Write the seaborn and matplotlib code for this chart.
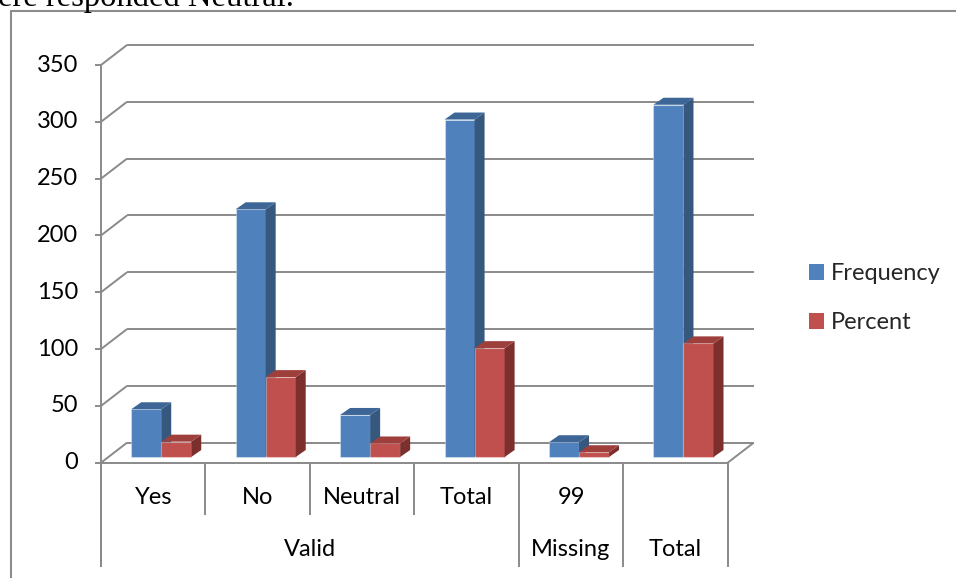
import matplotlib
matplotlib.use("Agg")
import matplotlib.pyplot as plt
import seaborn as sns
import pandas as pd
from matplotlib.patches import Polygon, Rectangle
from matplotlib.lines import Line2D
from matplotlib.transforms import ScaledTranslation

# ---- data -------------------------------------------------------------
rows = ["Yes", "No", "Neutral", "Valid total", "99", "Total"]
row_labels = ["Yes", "No", "Neutral", "Total", "99", ""]
groups = ["Valid", "Missing", "Total"]
group_spans = [(0, 4), (4, 5), (5, 6)]
series = ["Frequency", "Percent"]
frequency = [42, 218, 37, 297, 13, 310]
percent = [13.5, 70.3, 11.9, 95.8, 4.2, 100.0]
y_ticks = [0, 50, 100, 150, 200, 250, 300, 350]

df = pd.DataFrame({
    "row": rows * 2,
    "series": [series[0]] * len(rows) + [series[1]] * len(rows),
    "value": frequency + percent,
})

# ---- styling ----------------------------------------------------------
BLUE, BLUE_SIDE, BLUE_TOP = "#4F81BD", "#36587F", "#3D6697"
RED, RED_SIDE, RED_TOP = "#C0504D", "#7C2F2D", "#9E3F3C"
GRID = "#8A8A8A"
FRAME = "#8C8C8C"

W, H, DPI = 956, 578, 100
sns.set_theme(style="white")
plt.rcParams["font.family"] = ["Lato", "DejaVu Sans"]
FS = 17

fig = plt.figure(figsize=(W / DPI, H / DPI), dpi=DPI)
fig.patch.set_facecolor("white")

# front plane of the plot: pixel columns/rows of the category edges and 0..350
X0, X1 = 101.0, 727.7
Y0, Y1 = 462.7, 65.0
ax = fig.add_axes([X0 / W, 1 - Y0 / H, (X1 - X0) / W, (Y0 - Y1) / H])

sns.barplot(data=df, x="row", y="value", hue="series", order=rows,
            hue_order=series, palette=[BLUE, RED], width=0.575,
            saturation=1, legend=False, errorbar=None, ax=ax)
ax.set_xlim(-0.5, len(rows) - 0.5)
ax.set_ylim(0, 350)
ax.axis("off")

px_x = (X1 - X0) / len(rows)
px_y = (Y0 - Y1) / 350.0


def cx(p):
    return p / px_x


def cy(p):
    return p / px_y


# depth of the back wall, position of the bars inside the box, bar depth
WALL_DX, WALL_DY = cx(26), cy(20)
BAR_SHIFT = ScaledTranslation(8 / DPI, 5.7 / DPI, fig.dpi_scale_trans)
BAR_DX, BAR_DY = cx(10), cy(7)

lkw = dict(color=GRID, lw=1.4, clip_on=False, zorder=1, solid_capstyle="butt")
left, right = -0.5, len(rows) - 0.5

# back wall gridlines and the diagonals joining them to the value axis
for v in y_ticks:
    ax.plot([left + WALL_DX, right + WALL_DX], [v + WALL_DY] * 2, **lkw)
    ax.plot([left, left + WALL_DX], [v, v + WALL_DY], **lkw)
    ax.plot([left - cx(6), left], [v, v], **lkw)

# floor
ax.plot([left, right], [0, 0], **lkw)
ax.plot([right, right + WALL_DX], [0, WALL_DY], **lkw)

# value axis, running down into the category table
bottom_long = -cy(567 - Y0)
bottom_short = -cy(515 - Y0)
ax.plot([left, left], [350, bottom_long], **lkw)

# category table separators
long_edges = {s for s, _ in group_spans} | {e for _, e in group_spans}
for k in range(len(rows) + 1):
    y_end = bottom_long if k in long_edges else bottom_short
    ax.plot([k - 0.5, k - 0.5], [0, y_end], **lkw)

# ---- 3-D columns ------------------------------------------------------
bar_tr = ax.transData + BAR_SHIFT
n = len(rows)
for i, patch in enumerate(ax.patches):
    is_blue = i < n
    side_c = BLUE_SIDE if is_blue else RED_SIDE
    top_c = BLUE_TOP if is_blue else RED_TOP
    base_z = 3 if is_blue else 3.2
    x, w, h = patch.get_x(), patch.get_width(), patch.get_height()
    patch.set_transform(bar_tr)
    patch.set_zorder(base_z)
    patch.set_edgecolor((1, 1, 1, 0.35))
    patch.set_linewidth(0.8)
    patch.set_clip_on(False)
    side = Polygon([(x + w, 0), (x + w + BAR_DX, BAR_DY),
                    (x + w + BAR_DX, h + BAR_DY), (x + w, h)],
                   closed=True, facecolor=side_c, edgecolor="none",
                   transform=bar_tr, zorder=base_z + 0.1, clip_on=False)
    top = Polygon([(x, h), (x + w, h), (x + w + BAR_DX, h + BAR_DY),
                   (x + BAR_DX, h + BAR_DY)],
                  closed=True, facecolor=top_c, edgecolor="none",
                  transform=bar_tr, zorder=base_z + 0.1, clip_on=False)
    ax.add_patch(side)
    ax.add_patch(top)

# ---- text -------------------------------------------------------------
for v in y_ticks:
    ax.text(left - cx(23), v, str(v), ha="right", va="center",
            fontsize=FS, color="black")

for k, lab in enumerate(row_labels):
    ax.text(k, -cy(498 - Y0), lab, ha="center", va="center",
            fontsize=FS, color="black")

for (s, e), g in zip(group_spans, groups):
    ax.text((s + e - 1) / 2, -cy(549 - Y0), g, ha="center", va="center",
            fontsize=FS, color="black")

handles = [Rectangle((0, 0), 1, 1, facecolor=BLUE, edgecolor="none"),
           Rectangle((0, 0), 1, 1, facecolor=RED, edgecolor="none")]
fig.legend(handles, series, loc="upper left",
           bbox_to_anchor=(809 / W, 1 - 263 / H), frameon=False,
           fontsize=FS, handlelength=0.64, handleheight=0.64,
           handletextpad=0.27, labelspacing=1.2, borderpad=0,
           borderaxespad=0)

fig.text(-2 / W, 1 - 6 / H, "ere responded Neutral.", ha="left",
         va="baseline", fontsize=23.5, family="Liberation Serif",
         color="black")

# outer frame of the chart area
fig.add_artist(Line2D([10.5 / W, 1], [1 - 10.5 / H] * 2, color=FRAME, lw=1.5))
fig.add_artist(Line2D([10.5 / W] * 2, [0, 1 - 10.5 / H], color=FRAME, lw=1.5))

fig.savefig("out.png", dpi=DPI, facecolor="white")
